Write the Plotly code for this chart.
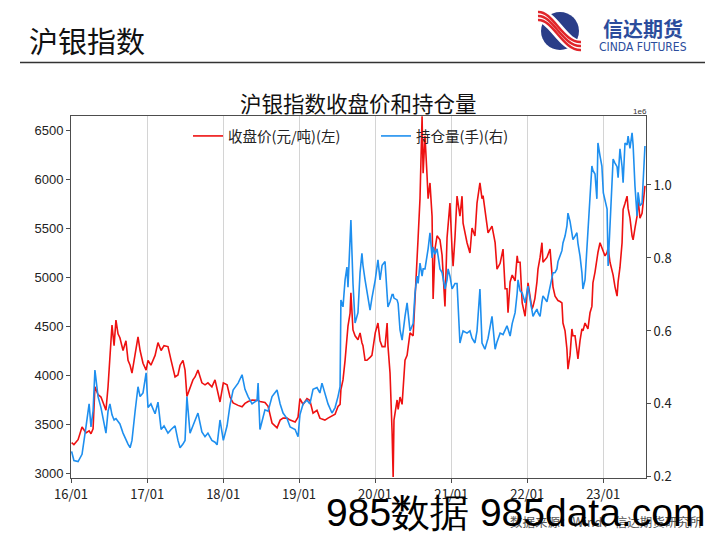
import plotly.graph_objects as go

# ---------------- data ----------------
dates = [
    "2016-01-04", "2016-01-15", "2016-02-04", "2016-02-23", "2016-03-13", "2016-03-28", "2016-04-06", "2016-04-16",
    "2016-04-25", "2016-05-10", "2016-05-24", "2016-06-08", "2016-06-17", "2016-06-27", "2016-07-06", "2016-07-16",
    "2016-07-26", "2016-08-04", "2016-08-14", "2016-08-23", "2016-09-07", "2016-09-21", "2016-10-01", "2016-10-11",
    "2016-10-20", "2016-11-04", "2016-11-18", "2016-11-28", "2016-12-12", "2016-12-27",
    "2017-01-05", "2017-01-19", "2017-02-08", "2017-02-22", "2017-03-09", "2017-03-23", "2017-04-11", "2017-04-26",
    "2017-05-15", "2017-05-29", "2017-06-08", "2017-06-22", "2017-07-02", "2017-07-11", "2017-07-26", "2017-08-09",
    "2017-08-19", "2017-09-02", "2017-09-21", "2017-10-06", "2017-10-20", "2017-11-08", "2017-11-23", "2017-12-03",
    "2017-12-17",
    "2018-01-02", "2018-01-20", "2018-02-03", "2018-02-18", "2018-03-14", "2018-04-02", "2018-04-16", "2018-05-01",
    "2018-05-20", "2018-06-13", "2018-06-18", "2018-06-27", "2018-07-21", "2018-08-05", "2018-08-24", "2018-09-17",
    "2018-10-02", "2018-10-16", "2018-11-04", "2018-11-19", "2018-12-13", "2018-12-27",
    "2019-01-05", "2019-01-20", "2019-02-08", "2019-02-22", "2019-03-09", "2019-03-28", "2019-04-11", "2019-04-21",
    "2019-05-05", "2019-05-20", "2019-06-08", "2019-06-23", "2019-07-07", "2019-07-17", "2019-07-21", "2019-07-31",
    "2019-08-10", "2019-08-19", "2019-08-24", "2019-09-03", "2019-09-07", "2019-09-17", "2019-09-27", "2019-10-11",
    "2019-10-21", "2019-10-30", "2019-11-04", "2019-11-14", "2019-11-23", "2019-12-08", "2019-12-17",
    "2020-01-02", "2020-01-15", "2020-01-25", "2020-02-04", "2020-02-18", "2020-02-28", "2020-03-03", "2020-03-13",
    "2020-03-23", "2020-03-28", "2020-04-01", "2020-04-16", "2020-04-21", "2020-04-30", "2020-05-10", "2020-05-24",
    "2020-06-03", "2020-06-17", "2020-07-02", "2020-07-11", "2020-07-21", "2020-07-26", "2020-08-04", "2020-08-14",
    "2020-08-19", "2020-08-28", "2020-09-07", "2020-09-12", "2020-09-21", "2020-10-01", "2020-10-06", "2020-10-15",
    "2020-10-25", "2020-11-08", "2020-11-18", "2020-11-23", "2020-12-02", "2020-12-12", "2020-12-17", "2020-12-26",
    "2021-01-05", "2021-01-10", "2021-01-19", "2021-01-29", "2021-02-12", "2021-02-22", "2021-02-27", "2021-03-18",
    "2021-04-01", "2021-04-11", "2021-04-25", "2021-05-05", "2021-05-19", "2021-05-29", "2021-06-03", "2021-06-12",
    "2021-06-22", "2021-06-27", "2021-07-16", "2021-07-31", "2021-08-09", "2021-08-24", "2021-09-07", "2021-09-17",
    "2021-09-26", "2021-10-01", "2021-10-11", "2021-10-21", "2021-11-04", "2021-11-14", "2021-11-18", "2021-11-28",
    "2021-12-08", "2021-12-22",
    "2022-01-05", "2022-01-14", "2022-01-24", "2022-01-29", "2022-02-07", "2022-02-17", "2022-02-22", "2022-03-04",
    "2022-03-13", "2022-03-18", "2022-04-06", "2022-04-21", "2022-04-30", "2022-05-05", "2022-05-15", "2022-05-24",
    "2022-05-29", "2022-06-08", "2022-06-17", "2022-06-22", "2022-07-02", "2022-07-11", "2022-07-16", "2022-07-26",
    "2022-08-04", "2022-08-09", "2022-08-19", "2022-08-28", "2022-09-02", "2022-09-12", "2022-09-21", "2022-09-26",
    "2022-10-06", "2022-10-20", "2022-10-30", "2022-11-08", "2022-11-13", "2022-11-23", "2022-12-02", "2022-12-07",
    "2022-12-17", "2022-12-26",
    "2023-01-02", "2023-01-10", "2023-01-20", "2023-01-25", "2023-02-03", "2023-02-13", "2023-02-18", "2023-02-27",
    "2023-03-09", "2023-03-14", "2023-03-23", "2023-04-02", "2023-04-07", "2023-04-16", "2023-04-26", "2023-05-01",
    "2023-05-10", "2023-05-20", "2023-05-25", "2023-06-03", "2023-06-13", "2023-06-18", "2023-06-27", "2023-07-07",
    "2023-07-12", "2023-07-21",
]

close_price = [
    3310, 3290, 3340, 3470, 3410, 3430, 3400, 3450, 3880, 3800, 3775, 3700, 3640, 3880, 4200, 4510,
    4300, 4560, 4420, 4380, 4250, 4350, 4150, 4100, 4020, 4200, 4390, 4250, 4120, 4050,
    4150, 4100, 4200, 4330, 4250, 4300, 4290, 4150, 3980, 4000, 4100, 4150, 4050, 3780, 3880, 3950,
    3980, 4050, 3920, 3900, 3920, 3880, 3950, 3860, 3725,
    3920, 3900, 3775, 3715, 3690, 3675, 3710, 3730, 3745, 3740, 3740, 3730, 3720, 3680, 3510, 3460,
    3540, 3560, 3560, 3540, 3520, 3570,
    3760, 3700, 3760, 3740, 3610, 3640, 3560, 3550, 3540, 3560, 3580, 3600, 3680, 3700, 3850, 3950,
    4150, 4430, 4500, 4630, 4840, 4460, 4400, 4360, 4430, 4330, 4300, 4150, 4150, 4180, 4200,
    4430, 4530, 4350, 4290, 4290, 4530, 4300, 4020, 3410, 2960, 3540, 3745, 3650, 3775, 3700, 4150,
    4200, 4430, 4400, 4730, 5100, 5400, 5800, 6640, 6060, 6440, 6030, 5800, 5960, 5620, 4775, 5285,
    5420, 5380, 5225, 5020, 4700, 5400, 5550, 5755,
    5285, 5110, 5400, 5825, 5620, 5825, 5550, 5350, 5245, 5500, 5420, 5755, 5960, 5800, 5830, 5700,
    5550, 5450, 5520, 5350, 5080, 5140, 5285, 4880, 4880, 4635, 4950, 5020, 4960, 5215, 5150, 5150,
    4735, 4600,
    4940, 4800, 4675, 4700, 4780, 4950, 5080, 5200, 5350, 5150, 5200, 5285, 5010, 4900, 4805, 4780,
    4760, 4750, 4735, 4530, 4450, 4265, 4060, 4200, 4470, 4400, 4400, 4250, 4165, 4350, 4470, 4450,
    4530, 4470, 4635, 4700, 4940, 5050, 5185, 5250, 5350, 5300,
    5250, 5215, 5250, 5300, 5150, 5080, 5020, 4900, 4805, 4950, 5100, 5350, 5690, 5750, 5825, 5700,
    5600, 5420, 5380, 5500, 5620, 5800, 5600, 5650, 5755, 5930,
]

open_interest = [
    270000, 245000, 242000, 262000, 337000, 400000, 337000, 380000, 493000, 420000, 390000, 350000, 320000, 380000, 400000, 370000,
    356000, 360000, 350000, 345000, 320000, 300000, 290000, 280000, 300000, 380000, 447000, 420000, 430000, 485000,
    390000, 400000, 373000, 405000, 330000, 340000, 320000, 330000, 340000, 300000, 280000, 290000, 300000, 420000, 320000, 340000,
    356000, 375000, 323000, 310000, 320000, 300000, 295000, 288000, 356000,
    300000, 340000, 397000, 438000, 457000, 480000, 440000, 420000, 400000, 410000, 457000, 330000, 384000, 380000, 420000, 438000,
    400000, 375000, 360000, 337000, 330000, 310000,
    370000, 400000, 410000, 400000, 440000, 445000, 430000, 457000, 430000, 400000, 375000, 390000, 420000, 447000, 685000, 666000,
    740000, 775000, 720000, 896000, 904000, 730000, 622000, 650000, 760000, 813000, 780000, 740000, 712000, 657000, 690000,
    740000, 795000, 740000, 780000, 790000, 700000, 666000, 680000, 700000, 700000, 690000, 685000, 675000, 603000, 575000, 640000,
    677000, 600000, 620000, 704000, 750000, 730000, 786000, 750000, 770000, 770000, 800000, 825000, 869000, 800000, 830000, 810000,
    825000, 770000, 760000, 742000, 715000, 740000, 770000, 750000,
    715000, 720000, 730000, 730000, 567000, 590000, 600000, 594000, 600000, 580000, 567000, 600000, 715000, 567000, 560000, 550000,
    570000, 580000, 640000, 550000, 570000, 594000, 590000, 605000, 614000, 605000, 586000, 620000, 650000, 704000, 740000, 710000,
    704000, 677000,
    723000, 690000, 660000, 640000, 650000, 660000, 650000, 640000, 680000, 696000, 680000, 720000, 740000, 759000, 760000, 770000,
    790000, 805000, 820000, 841000, 860000, 888000, 923000, 900000, 860000, 850000, 860000, 869000, 840000, 805000, 760000, 715000,
    740000, 869000, 951000, 1052000, 1040000, 1030000, 962000, 1115000, 1080000, 1052000,
    978000, 960000, 934000, 778000, 900000, 1006000, 1071000, 1060000, 1050000, 1020000, 1099000, 1050000, 1006000, 1115000, 1110000, 1134000,
    1100000, 1143000, 1110000, 997000, 915000, 980000, 943000, 950000, 1020000, 1107000,
]

series_names = ["收盘价(元/吨)(左)", "持仓量(手)(右)"]
left_ticks = [3000, 3500, 4000, 4500, 5000, 5500, 6000, 6500]
right_ticks = [200000, 400000, 600000, 800000, 1000000]
right_tick_labels = ["0.2", "0.4", "0.6", "0.8", "1.0"]

# ---------------- layout helpers (pixel -> paper) ----------------
PL, PR, PT, PB = 71, 646, 116, 478


def fx(px):
    return (px - PL) / (PR - PL)


def fy(py):
    return (PB - py) / (PB - PT)


CJK = "Noto Sans CJK SC"
AX = "#4d4d4d"

fig = go.Figure()
fig.add_trace(go.Scatter(x=dates, y=close_price, name=series_names[0], mode="lines",
                         line=dict(color="#ee1111", width=1.6), yaxis="y"))
fig.add_trace(go.Scatter(x=dates, y=open_interest, name=series_names[1], mode="lines",
                         line=dict(color="#1e8fef", width=1.6), yaxis="y2"))

fig.update_layout(
    width=720, height=540,
    margin=dict(l=PL, r=720 - PR, t=PT, b=540 - PB, pad=0),
    paper_bgcolor="white", plot_bgcolor="white",
    showlegend=True,
    legend=dict(orientation="h", x=fx(188), y=fy(136), xanchor="left", yanchor="middle",
                bgcolor="rgba(0,0,0,0)", font=dict(family=CJK, size=14.5, color="#222"),
                entrywidth=143, entrywidthmode="pixels", itemwidth=30),
    xaxis=dict(type="date", range=["2016-01-01", "2023-07-26"],
               tick0="2016-01-01", dtick="M12", tickformat="%y/%m",
               showgrid=True, gridcolor="#d4d4d4", gridwidth=1,
               showline=True, linecolor=AX, linewidth=1, mirror=True,
               ticks="outside", ticklen=4, tickcolor=AX,
               tickfont=dict(family=CJK, size=13, color="#222"), zeroline=False),
    yaxis=dict(range=[2949, 6643], tickvals=left_ticks, showgrid=False, zeroline=False,
               showline=True, linecolor=AX, linewidth=1,
               ticks="outside", ticklen=4, tickcolor=AX,
               tickfont=dict(family="Liberation Sans, Arial", size=13, color="#222")),
    yaxis2=dict(range=[197000, 1189000], overlaying="y", side="right",
                tickvals=right_ticks, ticktext=right_tick_labels, showgrid=False, zeroline=False,
                showline=True, linecolor=AX, linewidth=1,
                ticks="outside", ticklen=4, tickcolor=AX,
                tickfont=dict(family=CJK, size=13, color="#222")),
)

annotations = [
    dict(text="沪银指数", x=fx(27), y=fy(40), xanchor="left", yanchor="middle",
         font=dict(family=CJK, size=29, color="#111")),
    dict(text="沪银指数收盘价和持仓量", x=fx(358), y=fy(103), xanchor="center", yanchor="middle",
         font=dict(family=CJK, size=21.5, color="#111")),
    dict(text="1e6", x=fx(640), y=fy(111), xanchor="center", yanchor="middle",
         font=dict(family="Liberation Sans, Arial", size=8, color="#333")),
    dict(text="<b>信达期货</b>", x=fx(643), y=fy(29), xanchor="center", yanchor="middle",
         font=dict(family=CJK, size=20, color="#2b4c9c")),
    dict(text="CINDA FUTURES", x=fx(643), y=fy(47.5), xanchor="center", yanchor="middle",
         font=dict(family="Liberation Sans Narrow, DejaVu Sans Condensed, Liberation Sans", size=12, color="#2b4c9c")),
    dict(text="数据来源：Wind、信达期货研究所", x=fx(704), y=fy(521), xanchor="right", yanchor="middle",
         font=dict(family=CJK, size=12.5, color="#555")),
    dict(text="985数据 985data.com", x=fx(707), y=fy(512), xanchor="right", yanchor="middle",
         font=dict(family="Liberation Sans, Arial", size=39, color="#000")),
]
for a in annotations:
    a.update(xref="paper", yref="paper", showarrow=False)
fig.update_layout(annotations=annotations)

shapes = [
    dict(type="line", x0=fx(20), x1=fx(705), y0=fy(62.5), y1=fy(62.5),
         line=dict(color="#333", width=1.5)),
    dict(type="circle", x0=fx(541), x1=fx(579), y0=fy(50), y1=fy(12),
         fillcolor="#2a3d88", line=dict(color="#2a3d88", width=0)),
]


def stripe(dy, color, width):
    return dict(type="path",
                path=(f"M {fx(538)},{fy(14 + dy)} C {fx(553)},{fy(13 + dy)} "
                      f"{fx(563)},{fy(45 + dy)} {fx(581)},{fy(44 + dy)}"),
                line=dict(color=color, width=width))


shapes.append(stripe(2, "white", 13))
for d in (-2, 2, 6):
    shapes.append(stripe(d, "#e0262b", 2.6))
for s in shapes:
    s.update(xref="paper", yref="paper", layer="above")
fig.update_layout(shapes=shapes)

fig.write_html("out.html")
